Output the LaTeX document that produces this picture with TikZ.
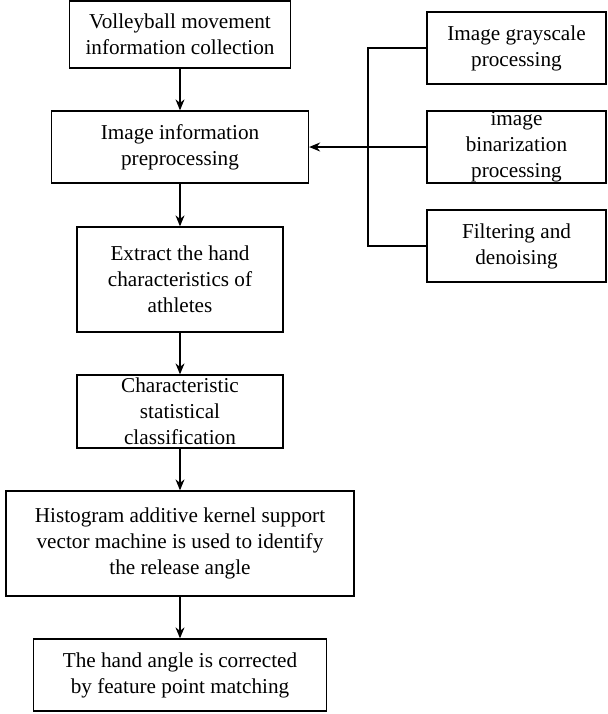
\documentclass[tikz,border=0pt]{standalone}
\usepackage{fontspec}
\setmainfont{Liberation Serif}
\usetikzlibrary{arrows.meta}
\begin{document}
\begin{tikzpicture}[
  x=0.5pt, y=-0.5pt,
  paso/.style={draw=black, line width=0.65pt, align=center, inner sep=0pt,
    font=\fontsize{10.6}{13}\selectfont},
  lateral/.style={paso, minimum width=89.5pt, minimum height=36pt},
  flecha/.style={-{Stealth[length=5.5pt,width=4.5pt]}, line width=0.65pt}
]
\useasboundingbox (0,0) rectangle (607,714);
% columna principal
\node[paso, minimum width=110.5pt, minimum height=33.5pt] (recogida) at (180,34.5)
  {Volleyball movement\\information collection};
\node[paso, minimum width=128.5pt, minimum height=36pt] (preproc) at (180,147)
  {Image information\\preprocessing};
\node[paso, minimum width=103pt, minimum height=52.5pt] (extraer) at (180,279.5)
  {Extract the hand\\characteristics of\\athletes};
\node[paso, minimum width=103pt, minimum height=36.5pt] (clasif) at (180,411.5)
  {Characteristic\\statistical\\classification};
\node[paso, minimum width=174pt, minimum height=52.5pt] (svm) at (180,543.5)
  {Histogram additive kernel support\\vector machine is used to identify\\the release angle};
\node[paso, minimum width=146.5pt, minimum height=36pt] (correccion) at (180,675)
  {The hand angle is corrected\\by feature point matching};
% cajas laterales
\node[lateral] (gris) at (516.5,48) {Image grayscale\\processing};
\node[lateral] (binar) at (516.5,147) {image\\binarization\\processing};
\node[lateral] (filtro) at (516.5,246) {Filtering and\\denoising};
\coordinate (bus) at (368,147);

\draw[flecha] (recogida) -- (preproc);
\draw[flecha] (preproc) -- (extraer);
\draw[flecha] (extraer) -- (clasif);
\draw[flecha] (clasif) -- (svm);
\draw[flecha] (svm) -- (correccion);
\draw[line width=0.65pt] (gris.west) -| (bus);
\draw[line width=0.65pt] (filtro.west) -| (bus);
\draw[flecha] (binar.west) -- (preproc.east);
\end{tikzpicture}
\end{document}
